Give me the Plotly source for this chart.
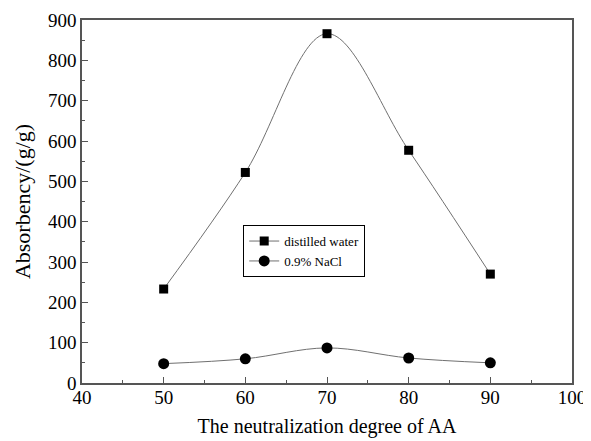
import plotly.graph_objects as go

degree = [50, 60, 70, 80, 90]
distilled_water = [233, 522, 866, 577, 270]
nacl = [48, 60, 87, 62, 50]

font = "Liberation Serif"
fig = go.Figure()
fig.add_trace(go.Scatter(x=degree, y=distilled_water, mode="lines+markers", name="distilled water",
                         line=dict(color="#707070", width=1, shape="spline"),
                         marker=dict(symbol="square", size=9, color="black")))
fig.add_trace(go.Scatter(x=degree, y=nacl, mode="lines+markers", name="0.9% NaCl",
                         line=dict(color="#707070", width=1, shape="spline"),
                         marker=dict(symbol="circle", size=11, color="black")))

axis_common = dict(showline=True, linecolor="#555555", linewidth=1.5, mirror=True,
                   ticks="inside", ticklen=6, tickcolor="#555555", showgrid=False, zeroline=False,
                   automargin=False,
                   tickfont=dict(family=font, size=19, color="black"))
fig.update_xaxes(range=[40, 100], dtick=10,
                 minor=dict(ticks="inside", ticklen=3, dtick=5, tickcolor="#555555"),
                 ticklabelstandoff=-4,
                 title=dict(text="The neutralization degree of AA", font=dict(family=font, size=20, color="black"), standoff=12),
                 **axis_common)
fig.update_yaxes(range=[0, 900], dtick=100,
                 minor=dict(ticks="inside", ticklen=3, dtick=50, tickcolor="#555555"),
                 title=dict(text="Absorbency/(g/g)", font=dict(family=font, size=22, color="black"), standoff=11),
                 **axis_common)
# page body adds an 8px offset; size the figure so the plot area lands where the reference has it
fig.update_layout(width=583, height=433, margin=dict(l=74, r=19, t=12, b=58),
                  plot_bgcolor="white", paper_bgcolor="white",
                  font=dict(family=font, size=19, color="black"),
                  legend=dict(x=0.329, y=0.435, xanchor="left", yanchor="top",
                              bordercolor="black", borderwidth=1, bgcolor="white",
                              font=dict(family=font, size=13), tracegroupgap=0,
                              itemwidth=30))
fig.write_html("out.html")
